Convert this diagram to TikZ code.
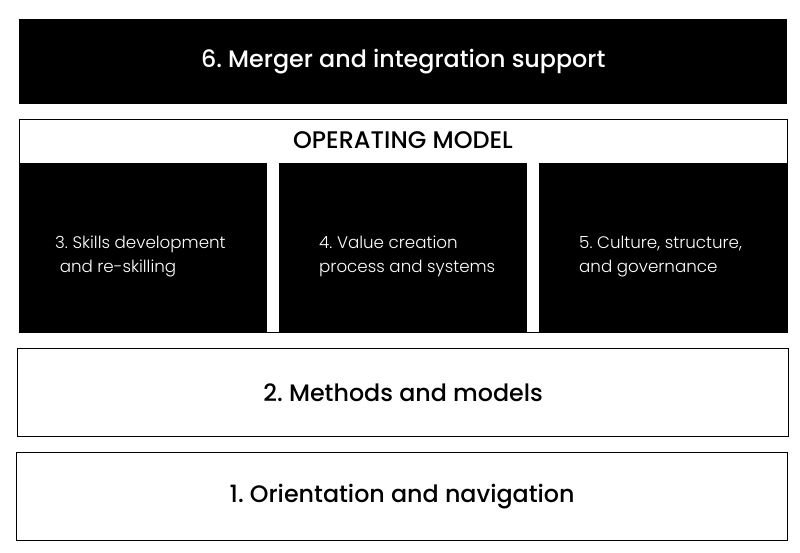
\documentclass[tikz,border=0pt]{standalone}
\usepackage{fontspec}
\setmainfont{Poppins}
\newfontfamily\medfont{Poppins Medium}
\newfontfamily\lightfont{Poppins Light}
\frenchspacing
\begin{document}
\begin{tikzpicture}[x=1pt,y=-1pt,
  blackbar/.style={fill=black,draw=none,text=white,anchor=north west,inner sep=0pt},
  whitebar/.style={fill=white,draw=black,line width=1.3pt,anchor=north west,inner sep=0pt},
  pillar/.style={fill=black,draw=none,anchor=north west,inner sep=0pt,minimum width=248pt,minimum height=169pt},
  pillartext/.style={text=white,anchor=base west,inner sep=0pt,align=left,font=\lightfont\fontsize{16.7}{24}\selectfont},
  bigtext/.style={font=\medfont\fontsize{23.8}{26}\selectfont}]
\useasboundingbox[fill=white] (0,0) rectangle (800,552);
\node[blackbar,minimum width=768pt,minimum height=85pt,bigtext] (merger) at (19,19) {6. Merger and integration support};
\node[whitebar,minimum width=768pt,minimum height=213pt] (opm) at (19,119) {};
\node[font=\medfont\fontsize{24}{26}\selectfont] (opmtitle) at (403,140.5) {OPERATING MODEL};
\node[pillar] (skills) at (19,163) {};
\node[pillar] (value) at (279,163) {};
\node[pillar] (culture) at (539,163) {};
\node[pillartext] (skillstext) at (55,272) {3. Skills development\\\ and re-skilling};
\node[pillartext] (valuetext) at (319,272) {4. Value creation\\process and systems};
\node[pillartext] (culturetext) at (579,272) {5. Culture, structure,\\and governance};
\node[whitebar,minimum width=771pt,minimum height=88pt,bigtext] (methods) at (17,348) {2. Methods and models};
\node[whitebar,minimum width=771pt,minimum height=88pt,bigtext] (orient) at (16,452) {1. Orientation and navigation};
\end{tikzpicture}
\end{document}
